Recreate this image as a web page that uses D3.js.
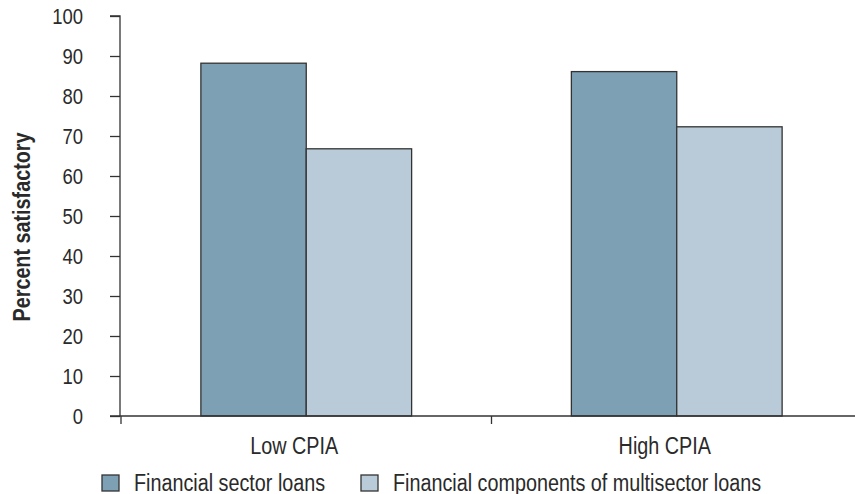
<!DOCTYPE html>
<html>
<head>
<meta charset="utf-8">
<script src="https://cdn.jsdelivr.net/npm/d3@7"></script>
<style>
  body { margin: 0; background: #fff; }
  svg text { font-family: "Liberation Sans", Arial, sans-serif; fill: #2a2a2a; }
</style>
</head>
<body>
<svg id="chart" width="855" height="494"></svg>
<script>
const categories = ["Low CPIA", "High CPIA"];
const seriesNames = ["Financial sector loans", "Financial components of multisector loans"];
const financialSector = [88.2, 86.1];
const multisectorComponents = [66.8, 72.3];
const yTicks = [0, 10, 20, 30, 40, 50, 60, 70, 80, 90, 100];
const colors = ["#7ea0b5", "#b9cbd8"];

// condensed look: regular sans squeezed horizontally
const squeeze = 0.86;

const svg = d3.select("#chart");
const x0 = 121, x1 = 862, yTop = 16, yBottom = 416;

const x = d3.scaleBand().domain(categories).range([x0, x1]).paddingInner(0).paddingOuter(0);
const xs = d3.scaleBand().domain(seriesNames).range([0, x.bandwidth()]).paddingInner(0).paddingOuter(0.758);
const y = d3.scaleLinear().domain([0, 100]).range([yBottom, yTop]);

const rows = categories.map((c, i) => ({ cat: c, vals: [financialSector[i], multisectorComponents[i]] }));

// bars
const g = svg.append("g");
rows.forEach(r => {
  r.vals.forEach((v, j) => {
    g.append("rect")
      .attr("x", x(r.cat) + xs(seriesNames[j]))
      .attr("y", y(v))
      .attr("width", xs.bandwidth())
      .attr("height", y(0) - y(v))
      .attr("fill", colors[j])
      .attr("stroke", "#333")
      .attr("stroke-width", 1.3);
  });
});

// y axis
const yAxis = svg.append("g").attr("transform", `translate(${x0 - 1},0)`)
  .call(d3.axisLeft(y).tickValues(yTicks).tickSize(10).tickFormat(d3.format("d")));
yAxis.select(".domain").attr("stroke", "#333").attr("stroke-width", 1.3).attr("d", `M-10,${yTop}H0V${yBottom}`);
yAxis.selectAll(".tick line").attr("stroke", "#333").attr("stroke-width", 1.3);
yAxis.selectAll(".tick text")
  .style("font-size", "21.5px")
  .attr("x", -37 / squeeze)
  .attr("dy", "0.36em")
  .attr("transform", `scale(${squeeze},1)`);

// x axis
const xAxisG = svg.append("g").attr("transform", `translate(0,${yBottom})`);
xAxisG.append("line").attr("x1", x0 - 11).attr("x2", 855).attr("y1", 0).attr("y2", 0)
  .attr("stroke", "#333").attr("stroke-width", 1.3);
const xTickPos = categories.map(c => x(c)).concat([x(categories[categories.length - 1]) + x.bandwidth()]);
xAxisG.selectAll("line.tick").data(xTickPos).enter().append("line")
  .attr("x1", d => d).attr("x2", d => d).attr("y1", 0).attr("y2", 8)
  .attr("stroke", "#333").attr("stroke-width", 1.3);
xAxisG.selectAll("text").data(categories).enter().append("text")
  .attr("transform", d => `translate(${x(d) + x.bandwidth() / 2 - 12},38) scale(${squeeze},1)`)
  .attr("text-anchor", "middle")
  .style("font-size", "23px")
  .text(d => d);

// y axis title
svg.append("text")
  .attr("transform", `translate(30,227) rotate(-90) scale(${squeeze},1)`)
  .attr("text-anchor", "middle")
  .style("font-size", "23px")
  .style("font-weight", "bold")
  .text("Percent satisfactory");

// legend
const legendX = [102, 361];
seriesNames.forEach((s, j) => {
  const lg = svg.append("g").attr("transform", `translate(${legendX[j]},475)`);
  lg.append("rect").attr("x", 0).attr("y", 0).attr("width", 17).attr("height", 16)
    .attr("fill", colors[j]).attr("stroke", "#333").attr("stroke-width", 1.3);
  lg.append("text").attr("transform", `translate(32,15.5) scale(${squeeze},1)`)
    .style("font-size", "23px").text(s);
});
</script>
</body>
</html>
